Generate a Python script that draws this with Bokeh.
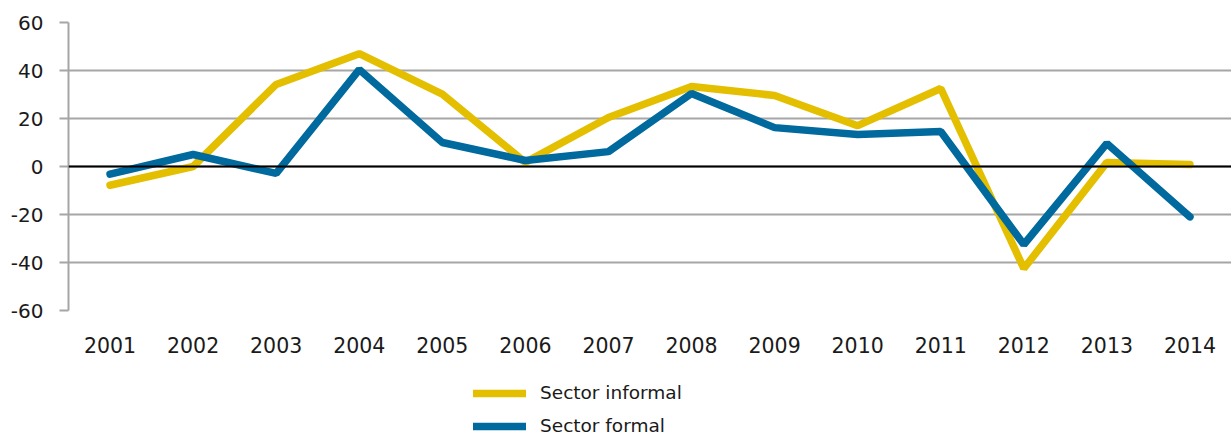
from bokeh.plotting import figure
from bokeh.layouts import column
from bokeh.models import FixedTicker, Legend, LegendItem, Span, ColumnDataSource
from bokeh.embed import file_html
from bokeh.resources import INLINE

years = ["2001", "2002", "2003", "2004", "2005", "2006", "2007", "2008", "2009", "2010", "2011", "2012", "2013", "2014"]
informal = [-7.8, 0.0, 34.2, 47.0, 30.2, 1.7, 20.4, 33.3, 29.6, 17.0, 32.5, -42.5, 1.7, 0.8]
formal = [-3.2, 5.0, -2.9, 40.4, 10.0, 2.5, 6.2, 30.4, 16.2, 13.3, 14.6, -32.5, 9.6, -21.0]
y_ticks = [-60, -40, -20, 0, 20, 40, 60]
y_tick_labels = ["-60", "-40", "-20", "0", "20", "40", "60"]
series_names = ["Sector informal", "Sector formal"]

FONT = "DejaVu Sans"
YELLOW = "#e3bf00"
BLUE = "#00699e"
GRID = "#a6a6a6"
TEXT = "#1a1a1a"

src = ColumnDataSource(dict(year=years, informal=informal, formal=formal))

p = figure(x_range=years, y_range=(-60, 60), width=1231, height=370,
           min_border_left=68, min_border_right=0, min_border_top=22, min_border_bottom=60,
           output_backend="svg", toolbar_location=None, background_fill_color="white",
           border_fill_color="white", outline_line_color=None)

p.xgrid.grid_line_color = None
p.ygrid.grid_line_color = GRID
p.ygrid.grid_line_width = 2
p.ygrid.ticker = FixedTicker(ticks=y_ticks)

p.yaxis.ticker = FixedTicker(ticks=y_ticks)
p.yaxis.major_label_overrides = {t: l for t, l in zip(y_ticks, y_tick_labels)}
p.yaxis.axis_line_color = GRID
p.yaxis.axis_line_width = 2
p.yaxis.major_tick_line_color = GRID
p.yaxis.major_tick_line_width = 2
p.yaxis.major_tick_out = 9
p.yaxis.major_tick_in = 0
p.yaxis.minor_tick_line_color = None
p.yaxis.major_label_text_font = FONT
p.yaxis.major_label_text_font_size = "20px"
p.yaxis.major_label_text_color = TEXT
p.yaxis.major_label_standoff = 16

p.xaxis.axis_line_color = None
p.xaxis.major_tick_line_color = None
p.xaxis.minor_tick_line_color = None
p.xaxis.major_label_text_font = FONT
p.xaxis.major_label_text_font_size = "20.5px"
p.xaxis.major_label_text_color = TEXT
p.xaxis.major_label_standoff = 20

zero = Span(location=0, dimension="width", line_color="black", line_width=2)
p.add_layout(zero)

p.line("year", "informal", source=src, line_color=YELLOW, line_width=7.5, line_cap="round")
p.line("year", "formal", source=src, line_color=BLUE, line_width=7.5, line_cap="round")

# legend figure (series drawn hidden so only the legend shows)
pl = figure(x_range=years, width=1231, height=66, min_border_left=0, min_border_right=0,
            min_border_top=0, min_border_bottom=0, output_backend="svg",
            toolbar_location=None, outline_line_color=None, border_fill_color="white")
pl.axis.visible = False
pl.grid.visible = False
l1 = pl.line("year", "informal", source=src, line_color=YELLOW, line_width=7.5, line_cap="round", visible=False)
l2 = pl.line("year", "formal", source=src, line_color=BLUE, line_width=7.5, line_cap="round", visible=False)

legend = Legend(items=[LegendItem(label=series_names[0], renderers=[l1]),
                       LegendItem(label=series_names[1], renderers=[l2])],
                location=(405, 0), orientation="vertical",
                glyph_width=53, glyph_height=20, label_height=20, spacing=12,
                label_standoff=14, padding=0, margin=0, border_line_color=None,
                background_fill_alpha=0, inactive_fill_alpha=0, label_text_font=FONT,
                label_text_font_size="18.5px", label_text_color=TEXT)
pl.add_layout(legend, "center")

layout = column(p, pl, spacing=0)
open("out.html", "w").write(file_html(layout, INLINE))
